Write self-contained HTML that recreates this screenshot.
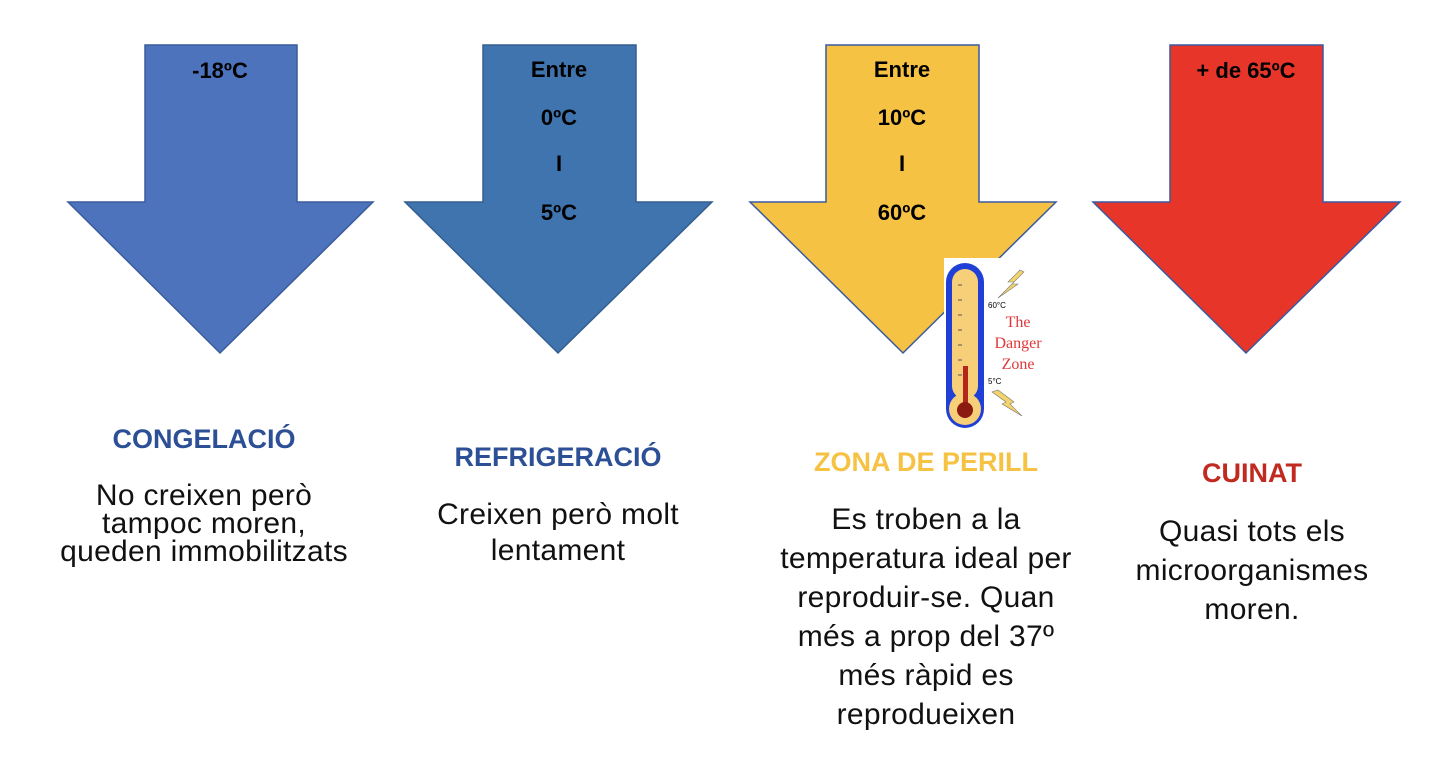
<!DOCTYPE html>
<html><head><meta charset="utf-8"><style>
body{margin:0;width:1440px;height:780px;background:#fff;overflow:hidden;position:relative;font-family:"Liberation Sans",Arial,sans-serif}
svg{position:absolute;left:0;top:0}
.t{position:absolute;text-align:center;transform:translateX(-50%);white-space:nowrap}
.h{font-weight:bold;font-size:27px}
.d{font-size:30px;letter-spacing:0.3px;line-height:35px;color:#111}
</style></head><body>
<svg width="1440" height="780">
<g stroke-width="1.5">
<polygon points="145,45 297,45 297,202 373,202 220,353 68,202 145,202" fill="#4d73bd" stroke="#3b5c9c"/>
<polygon points="483,45 636,45 636,202 712,202 558,353 405,202 483,202" fill="#4074af" stroke="#335e90"/>
<polygon points="826,45 979,45 979,202 1056,202 903,353 750,202 826,202" fill="#f5c243" stroke="#3a5aa0"/>
<polygon points="1170,45 1323,45 1323,202 1400,202 1246,353 1093,202 1170,202" fill="#e8352a" stroke="#3a5aa0"/>
</g>
<g font-family="Liberation Sans, Arial, sans-serif" font-weight="bold" font-size="22" text-anchor="middle" fill="#000">
<text x="220" y="78">-18ºC</text>
<text x="559" y="77">Entre</text><text x="559" y="125">0ºC</text><text x="559" y="171">I</text><text x="559" y="220">5ºC</text>
<text x="902" y="77">Entre</text><text x="902" y="125">10ºC</text><text x="902" y="171">I</text><text x="902" y="220">60ºC</text>
<text x="1246" y="78">+ de 65ºC</text>
</g>
<rect x="944" y="258" width="112" height="172" fill="#fff"/>
<rect x="946" y="263" width="38" height="165" rx="19" fill="#1f3fd6"/>
<rect x="952" y="269" width="26" height="130" rx="13" fill="#f6cf78"/>
<circle cx="965" cy="409" r="16" fill="#f6cf78"/>
<rect x="963" y="366" width="5" height="40" fill="#b3261b"/>
<circle cx="965" cy="410" r="8" fill="#8b1a10"/>
<g stroke="#555" stroke-width="1"><line x1="958" y1="285" x2="962" y2="285"/><line x1="958" y1="300" x2="962" y2="300"/><line x1="958" y1="315" x2="962" y2="315"/><line x1="958" y1="330" x2="962" y2="330"/><line x1="958" y1="345" x2="962" y2="345"/><line x1="958" y1="360" x2="962" y2="360"/><line x1="958" y1="375" x2="962" y2="375"/></g>
<polygon points="1020,270 1008,282 1014,282 998,298 1018,284 1012,284 1024,272" fill="#f3d36a" stroke="#777" stroke-width="0.6"/>
<polygon points="992,392 1006,402 1002,404 1022,416 1010,404 1014,402 998,390" fill="#f3d36a" stroke="#777" stroke-width="0.6"/>
<g font-family="Liberation Sans, sans-serif" font-size="8" fill="#000"><text x="988" y="308">60°C</text><text x="988" y="384">5°C</text></g>
<g font-family="Liberation Serif, serif" font-size="16" fill="#e0383a" text-anchor="middle"><text x="1018" y="327">The</text><text x="1018" y="348">Danger</text><text x="1018" y="369">Zone</text></g>
</svg>
<div class="t h" style="left:204px;top:424px;color:#2c4f96">CONGELACIÓ</div>
<div class="t d" style="left:204px;top:482px;line-height:28px">No creixen però<br>tampoc moren,<br>queden immobilitzats</div>
<div class="t h" style="left:558px;top:442px;color:#2c4f96">REFRIGERACIÓ</div>
<div class="t d" style="left:558px;top:497px;line-height:36px">Creixen però molt<br>lentament</div>
<div class="t h" style="left:926px;top:447px;color:#f5c243">ZONA DE PERILL</div>
<div class="t d" style="left:926px;top:500px;line-height:39px">Es troben a la<br>temperatura ideal per<br>reproduir-se. Quan<br>més a prop del 37º<br>més ràpid es<br>reprodueixen</div>
<div class="t h" style="left:1252px;top:458px;color:#c02a20">CUINAT</div>
<div class="t d" style="left:1252px;top:512px;line-height:39px">Quasi tots els<br>microorganismes<br>moren.</div>
</body></html>
